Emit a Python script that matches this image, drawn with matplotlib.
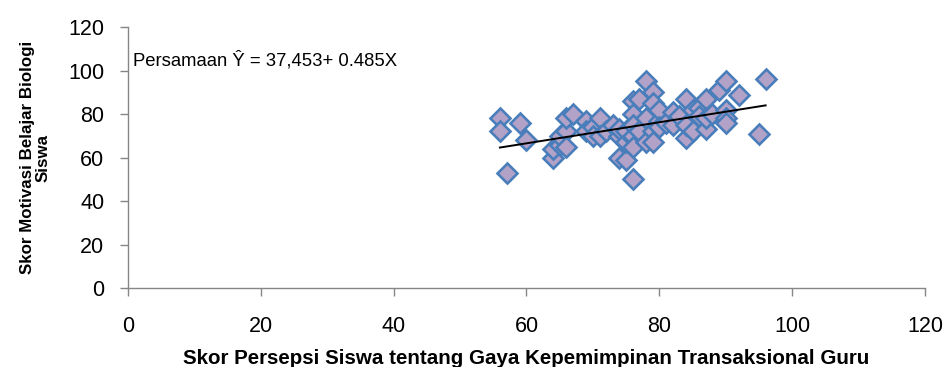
import numpy as np
import matplotlib
matplotlib.use("Agg")
import matplotlib.pyplot as plt

#### data
skor_persepsi = [56, 56, 57, 59, 60,
                 64, 64, 65, 65, 66, 66, 66, 67,
                 69, 69, 70, 70, 71, 71, 72, 73, 74, 74, 74, 75, 75, 75,
                 76, 76, 76, 76, 76, 76, 77, 77,
                 78, 78, 78, 79, 79, 79, 79, 80, 80, 80, 81, 82, 82, 83,
                 84, 84, 84, 85, 85, 86, 86, 87, 87, 87, 88, 89, 90, 90,
                 90, 90, 92, 95, 96]
skor_motivasi = [78, 72, 53, 76, 68,
                 60, 64, 66, 70, 72, 65, 78, 80,
                 77, 72, 74, 70, 78, 70, 72, 75, 70, 60, 73, 59, 67, 72,
                 86, 80, 75, 70, 65, 50, 87, 72,
                 95, 67, 78, 90, 85, 72, 67, 77, 82, 74, 76, 81, 75, 79,
                 87, 69, 75, 82, 72, 83, 79, 87, 73, 78, 80, 91, 82, 78,
                 95, 76, 89, 71, 96]

## regression from the chart's equation
intercept = 37.453
slope = 0.485
eq_label = "Persamaan Ŷ = 37,453+ 0.485X"

x_ticks = [0, 20, 40, 60, 80, 100, 120]
y_ticks = [0, 20, 40, 60, 80, 100, 120]

#### plotting
plt.rcParams['font.family'] = ['Liberation Sans', 'DejaVu Sans']

fig = plt.figure(figsize=(9.5, 3.67), dpi=100)
ax = fig.add_axes([0.1347, 0.2153, 0.8390, 0.7107])

ax.plot(skor_persepsi, skor_motivasi, linestyle="none", marker="D",
        markersize=10.5, markerfacecolor="#B3A2C7", markeredgecolor="#4A7EBB",
        markeredgewidth=1.9, zorder=2)

x_line = np.array([min(skor_persepsi), max(skor_persepsi)])
ax.plot(x_line, intercept + slope * x_line, color="black", linewidth=1.4, zorder=3)

ax.text(0.8, 105, eq_label, fontsize=13.3, va="center", ha="left")

ax.set_xlim(0, 120)
ax.set_ylim(0, 120)
ax.set_xticks(x_ticks)
ax.set_yticks(y_ticks)

## axis styling, excel look
for side in ["top", "right"]:
    ax.spines[side].set_visible(False)
for side in ["left", "bottom"]:
    ax.spines[side].set_color("#868686")
    ax.spines[side].set_linewidth(1.0)
ax.tick_params(axis="both", colors="#868686", labelcolor="black",
               length=6, width=1.0, labelsize=15.5)
ax.tick_params(axis="x", pad=14)
ax.tick_params(axis="y", pad=11)

ax.set_xlabel("Skor Persepsi Siswa tentang Gaya Kepemimpinan Transaksional Guru",
              fontsize=14.8, fontweight="bold", labelpad=9)
ax.set_ylabel("Skor Motivasi Belajar Biologi\nSiswa",
              fontsize=12.2, fontweight="bold", labelpad=13, linespacing=1.0)

plt.savefig("out.png", dpi=100)
plt.close(fig)
